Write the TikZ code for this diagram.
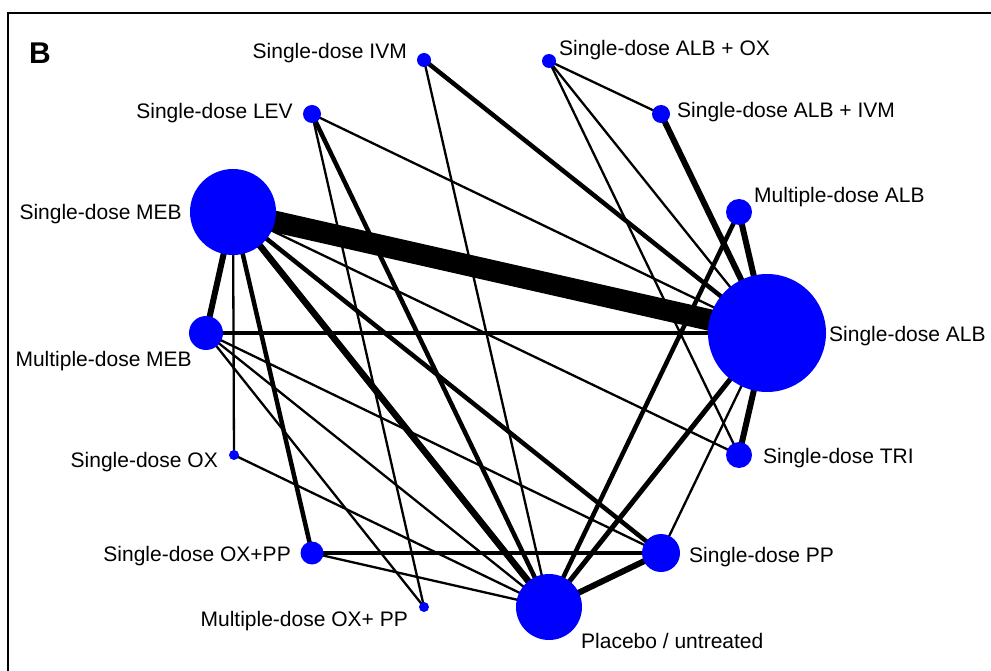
\documentclass[tikz,border=0pt]{standalone}
\usepackage{fontspec}
\setmainfont{Liberation Sans}
\pgfdeclarelayer{bg}
\pgfsetlayers{bg,main}
\begin{document}
\begin{tikzpicture}[x=1pt,y=-1pt,
  trt/.style={circle,fill=blue,draw=none,inner sep=0pt,minimum size=#1},
  lab/.style={inner sep=0pt,font=\fontsize{21}{25}\selectfont},
  edg/.style={line width=#1,draw=black},
  thin edge/.style={edg=2.3pt}
]
\useasboundingbox (0,0) rectangle (991,671);
% frame
\draw[line width=2pt] (8,671) -- (8,13) -- (991,13);
\node[inner sep=0pt,anchor=base west,font=\fontsize{30}{34}\selectfont\bfseries] (panel) at (29,64) {B};

% treatment nodes
\node[trt=14pt] (ivm) at (424,60) {};
\node[trt=14pt] (albox) at (549,61) {};
\node[trt=18pt] (albivm) at (661,114) {};
\node[trt=18pt] (lev) at (312,114) {};
\node[trt=86pt] (meb) at (233,212) {};
\node[trt=26pt] (malb) at (739,212) {};
\node[trt=118pt] (alb) at (767,333) {};
\node[trt=34pt] (mmeb) at (206,333) {};
\node[trt=26pt] (tri) at (739,455) {};
\node[trt=10pt] (ox) at (234,455) {};
\node[trt=23pt] (oxpp) at (312,553) {};
\node[trt=38pt] (pp) at (661,553) {};
\node[trt=10pt] (moxpp) at (424,607) {};
\node[trt=66pt] (plc) at (549,607) {};

% labels
\node[lab,anchor=base east] (livm) at (407,59) {Single-dose IVM};
\node[lab,anchor=base west] (lalbox) at (559,56) {Single-dose ALB + OX};
\node[lab,anchor=base west] (lalbivm) at (677,118) {Single-dose ALB + IVM};
\node[lab,anchor=base east] (llev) at (293,119) {Single-dose LEV};
\node[lab,anchor=base east] (lmeb) at (182,220) {Single-dose MEB};
\node[lab,anchor=base west] (lmalb) at (754,203) {Multiple-dose ALB};
\node[lab,anchor=base west] (lalb) at (829,341) {Single-dose ALB};
\node[lab,anchor=base east] (lmmeb) at (192,366) {Multiple-dose MEB};
\node[lab,anchor=base west] (ltri) at (763,463) {Single-dose TRI};
\node[lab,anchor=base east] (lox) at (218,467) {Single-dose OX};
\node[lab,anchor=base east] (loxpp) at (291,561) {Single-dose OX+PP};
\node[lab,anchor=base west] (lpp) at (689,562) {Single-dose PP};
\node[lab,anchor=base east] (lmoxpp) at (408,626) {Multiple-dose OX+ PP};
\node[lab,anchor=base west] (lplc) at (581,648) {Placebo / untreated};

% comparisons
\begin{pgfonlayer}{bg}
\draw[edg=21.5pt] (meb.center) -- (alb.center);
\draw[edg=6pt] (meb.center) -- (mmeb.center);
\draw[thin edge] (meb.center) -- (ox.center);
\draw[edg=4.5pt] (meb.center) -- (oxpp.center);
\draw[edg=6.5pt] (meb.center) -- (plc.center);
\draw[edg=4.5pt] (meb.center) -- (pp.center);
\draw[thin edge] (meb.center) -- (tri.center);
\draw[edg=4.5pt] (mmeb.center) -- (alb.center);
\draw[thin edge] (mmeb.center) -- (pp.center);
\draw[thin edge] (mmeb.center) -- (plc.center);
\draw[thin edge] (mmeb.center) -- (moxpp.center);
\draw[edg=4.5pt] (ivm.center) -- (alb.center);
\draw[thin edge] (ivm.center) -- (plc.center);
\draw[thin edge] (lev.center) -- (alb.center);
\draw[edg=4.5pt] (lev.center) -- (plc.center);
\draw[thin edge] (lev.center) -- (moxpp.center);
\draw[thin edge] (albox.center) -- (albivm.center);
\draw[thin edge] (albox.center) -- (alb.center);
\draw[thin edge] (albox.center) -- (tri.center);
\draw[edg=6pt] (albivm.center) -- (alb.center);
\draw[edg=6pt] (malb.center) -- (alb.center);
\draw[edg=4.5pt] (malb.center) -- (plc.center);
\draw[edg=6pt] (alb.center) -- (tri.center);
\draw[thin edge] (alb.center) -- (pp.center);
\draw[edg=5pt] (alb.center) -- (plc.center);
\draw[thin edge] (ox.center) -- (plc.center);
\draw[edg=4.5pt] (oxpp.center) -- (pp.center);
\draw[thin edge] (oxpp.center) -- (plc.center);
\draw[edg=6pt] (pp.center) -- (plc.center);
\end{pgfonlayer}
\end{tikzpicture}
\end{document}
